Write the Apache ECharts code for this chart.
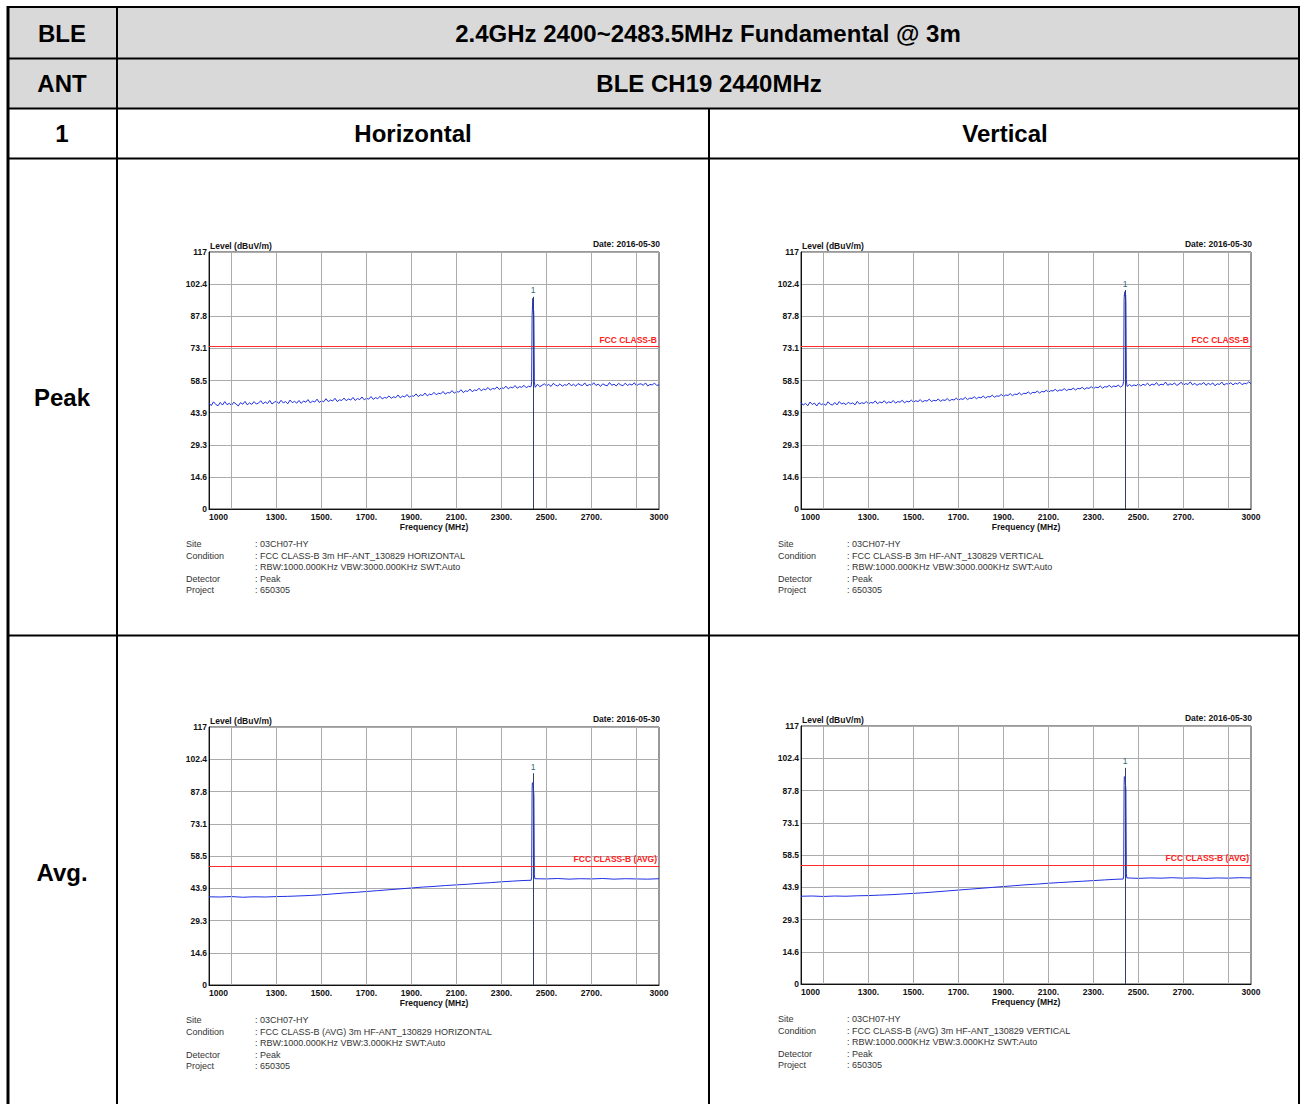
<!DOCTYPE html>
<html>
<head>
<meta charset="utf-8">
<script src="https://cdn.jsdelivr.net/npm/echarts@6/dist/echarts.min.js"></script>
<style>
  html, body { margin: 0; padding: 0; background: #fff; }
  #main { width: 1300px; height: 1104px; }
</style>
</head>
<body>
<div id="main"></div>
<script>
// axis ticks / labels
var xLabelValues = [1000, 1300, 1500, 1700, 1900, 2100, 2300, 2500, 2700, 3000];
var xLabelTexts = ['1000', '1300.', '1500.', '1700.', '1900.', '2100.', '2300.', '2500.', '2700.', '3000'];
var xGridLines = [1100, 1300, 1500, 1700, 1900, 2100, 2300, 2500, 2700, 2900];
var yTickLabels = ['0', '14.6', '29.3', '43.9', '58.5', '73.1', '87.8', '102.4', '117'];

// peak traces, sweep 1000..3000 MHz every 10 MHz (dBuV/m), one row = 100 MHz
var peakHLevels = [
  48.2, 47.1, 48.8, 47.6, 47.0, 48.5, 47.3, 48.9, 47.5, 48.1,
  47.2, 48.6, 47.8, 46.9, 48.4, 47.7, 49.0, 47.4, 48.3, 47.6,
  48.9, 47.8, 48.2, 49.3, 47.9, 48.7, 48.0, 49.4, 47.8, 48.6,
  49.1, 48.0, 49.5, 48.3, 48.9, 47.9, 49.6, 48.4, 49.0, 48.2,
  49.4, 48.1, 49.2, 48.6, 49.8, 48.3, 49.1, 48.7, 50.0, 48.5,
  49.3, 48.8, 50.2, 48.9, 49.6, 49.2, 50.4, 48.9, 49.7, 49.4,
  50.5, 49.3, 50.1, 49.6, 50.8, 49.4, 50.3, 49.8, 51.0, 49.7,
  50.4, 50.0, 51.2, 49.9, 50.7, 50.2, 51.3, 50.1, 50.8, 50.5,
  51.5, 50.4, 51.1, 50.7, 51.9, 50.6, 51.4, 51.0, 52.1, 50.9,
  51.6, 51.3, 52.4, 51.2, 52.0, 51.6, 52.8, 51.5, 52.3, 52.0,
  53.1, 52.0, 52.7, 52.4, 53.5, 52.3, 53.0, 52.8, 53.9, 52.7,
  53.5, 53.2, 54.3, 53.0, 53.8, 53.5, 54.6, 53.4, 54.2, 53.9,
  55.0, 53.8, 54.6, 54.3, 55.3, 54.1, 54.9, 54.6, 55.6, 54.4,
  55.2, 54.9, 55.9, 54.7, 55.5, 55.1, 56.2, 55.0, 55.7, 55.4,
  56.3, 55.2, 55.9, 55.6, 56.4, 55.4, 56.8, 55.7, 56.3, 57.0,
  56.1, 56.7, 55.8, 57.2, 56.4, 56.0, 57.0, 55.9, 56.6, 56.3,
  57.3, 56.1, 56.8, 55.9, 57.1, 56.5, 56.2, 57.4, 56.0, 56.7,
  56.3, 57.5, 56.2, 56.9, 55.8, 57.0, 56.4, 56.1, 57.6, 56.3,
  56.8, 56.0, 57.2, 56.5, 56.1, 57.3, 56.2, 56.9, 56.4, 57.5,
  56.1, 56.8, 57.0, 56.3, 57.4, 56.0, 56.7, 56.5, 57.3, 56.2,
  56.6
];
var peakVLevels = [
  48.5, 47.3, 48.1, 47.0, 48.7, 47.6, 48.2, 46.9, 48.4, 47.5,
  48.0, 47.2, 48.8, 47.7, 47.3, 48.5, 47.4, 48.9, 47.8, 48.2,
  47.5, 48.6, 47.9, 48.3, 47.4, 49.0, 47.8, 48.4, 48.0, 48.9,
  47.9, 48.5, 48.2, 49.2, 47.9, 48.7, 48.3, 49.3, 48.1, 48.8,
  48.4, 49.4, 48.2, 48.9, 48.6, 49.5, 48.3, 49.1, 48.7, 49.6,
  48.6, 49.3, 48.9, 49.8, 48.7, 49.4, 49.1, 50.0, 48.9, 49.5,
  49.2, 50.1, 49.0, 49.7, 49.4, 50.3, 49.2, 49.9, 49.6, 50.5,
  49.5, 50.2, 49.9, 50.8, 49.8, 50.5, 50.3, 51.1, 50.2, 50.9,
  50.6, 51.4, 50.5, 51.2, 51.0, 51.8, 50.9, 51.5, 51.3, 52.2,
  51.2, 51.9, 51.7, 52.5, 51.6, 52.3, 52.1, 52.9, 52.0, 52.7,
  52.5, 53.3, 52.4, 53.1, 52.9, 53.7, 52.8, 53.5, 53.3, 54.1,
  53.2, 53.9, 53.7, 54.5, 53.6, 54.2, 54.0, 54.8, 53.9, 54.5,
  54.3, 55.0, 54.2, 54.9, 54.7, 55.4, 54.5, 55.2, 54.9, 55.7,
  54.8, 55.5, 55.2, 56.0, 55.0, 55.7, 55.5, 56.3, 55.4, 56.0,
  55.7, 56.4, 55.5, 56.2, 56.0, 55.8, 56.7, 55.9, 56.5, 56.1,
  57.0, 56.0, 56.8, 56.3, 57.3, 56.1, 56.9, 56.4, 57.6, 56.2,
  56.8, 56.5, 57.8, 56.3, 57.0, 56.6, 57.4, 56.2, 56.9, 57.7,
  56.4, 57.1, 56.7, 57.9, 56.5, 57.2, 56.3, 57.0, 56.8, 57.6,
  56.3, 57.2, 56.6, 57.4, 56.1, 57.0, 56.7, 57.8, 56.4, 57.1,
  56.8, 57.5, 56.5, 57.3, 56.9, 57.7, 56.6, 57.2, 57.0, 57.9,
  57.0
];
// average traces, sweep 1000..3000 MHz every 50 MHz
var avgHLevels = [
  40.0, 39.9, 40.1, 39.8, 40.0, 39.9, 40.1, 40.2, 40.4, 40.6,
  40.9, 41.3, 41.7, 42.0, 42.4, 42.8, 43.2, 43.6, 44.0, 44.4,
  44.7, 45.1, 45.4, 45.7, 46.1, 46.4, 46.8, 47.1, 47.4, 48.2,
  48.1, 48.3, 48.0, 48.2, 48.1, 48.3, 48.0, 48.2, 48.1, 48.0,
  48.2
];
var avgVLevels = [
  39.8, 39.9, 39.7, 39.9, 39.8, 40.0, 40.1, 40.3, 40.5, 40.8,
  41.1, 41.4, 41.8, 42.2, 42.6, 43.0, 43.4, 43.8, 44.2, 44.6,
  45.0, 45.3, 45.7, 46.0, 46.3, 46.6, 46.9, 47.2, 47.5, 48.0,
  47.9, 48.1, 48.0, 48.2, 48.0, 48.1, 47.9, 48.1, 48.0, 48.2,
  48.1
];
// carrier at 2440 MHz
var spikeFreqs = [2432, 2434, 2436, 2437, 2438, 2439, 2440, 2441, 2442, 2443, 2444, 2446, 2448];
var peakHSpike = [56.0, 58, 88, 90.1, 89.8, 95.9, 95.5, 90.0, 89.6, 90.2, 87, 58, 56.3];
var peakVSpike = [56.2, 58, 95, 97.4, 97.0, 98.9, 98.5, 97.2, 96.8, 97.3, 94, 59, 56.5];
var avgHSpike = [47.5, 49, 88, 91.7, 91.4, 91.7, 91.5, 91.6, 91.3, 91.5, 86, 50, 48.2];
var avgVSpike = [47.6, 49, 90, 94.0, 93.7, 94.0, 93.8, 93.9, 93.6, 93.8, 88, 50, 48.1];
var markerFreq = 2440;
var markerLevels = [96.6, 99.7, 96.0, 98.0];
var limitLevels = [74, 74, 54, 54];
var limitNames = ['FCC CLASS-B', 'FCC CLASS-B', 'FCC CLASS-B (AVG)', 'FCC CLASS-B (AVG)'];

var FONT = '"Liberation Sans", Arial, sans-serif';

var panels = [
  {left: 209, top: 252, height: 257, levels: peakHLevels, step: 10, spike: peakHSpike,
   cond: 'FCC CLASS-B 3m HF-ANT_130829 HORIZONTAL', rbw: 'RBW:1000.000KHz VBW:3000.000KHz SWT:Auto'},
  {left: 801, top: 252, height: 257, levels: peakVLevels, step: 10, spike: peakVSpike,
   cond: 'FCC CLASS-B 3m HF-ANT_130829 VERTICAL', rbw: 'RBW:1000.000KHz VBW:3000.000KHz SWT:Auto'},
  {left: 209, top: 727, height: 258, levels: avgHLevels, step: 50, spike: avgHSpike,
   cond: 'FCC CLASS-B (AVG) 3m HF-ANT_130829 HORIZONTAL', rbw: 'RBW:1000.000KHz VBW:3.000KHz SWT:Auto'},
  {left: 801, top: 726, height: 258, levels: avgVLevels, step: 50, spike: avgVSpike,
   cond: 'FCC CLASS-B (AVG) 3m HF-ANT_130829 VERTICAL', rbw: 'RBW:1000.000KHz VBW:3.000KHz SWT:Auto'}
];

function buildTrace(levels, step, spike) {
  var lo = spikeFreqs[0], hi = spikeFreqs[spikeFreqs.length - 1];
  var pts = [];
  levels.forEach(function (v, i) {
    var f = 1000 + i * step;
    if (f < lo || f > hi) pts.push([f, v]);
  });
  spikeFreqs.forEach(function (f, i) { pts.push([f, spike[i]]); });
  pts.sort(function (a, b) { return a[0] - b[0]; });
  return pts;
}

function txt(x, y, s, size, bold, align, color) {
  return {
    type: 'text', x: x, y: y, silent: true,
    style: {
      text: s, fontSize: size, fontWeight: bold ? 'bold' : 'normal', fontFamily: FONT,
      fill: color || '#000', align: align || 'left', verticalAlign: 'middle'
    }
  };
}
function ln(x1, y1, x2, y2, w) {
  return {type: 'line', silent: true, shape: {x1: x1, y1: y1, x2: x2, y2: y2},
          style: {stroke: '#000', lineWidth: w}};
}

var grids = [], xAxes = [], yAxes = [], series = [];
var graphic = [
  {type: 'rect', silent: true, shape: {x: 9, y: 8, width: 1290, height: 100}, style: {fill: '#d9d9d9'}},
  ln(7, 7, 1300, 7, 2), ln(8, 6, 8, 1104, 3), ln(1299, 6, 1299, 1104, 2),
  ln(8, 58.5, 1300, 58.5, 2), ln(8, 108.5, 1300, 108.5, 2), ln(8, 158.5, 1300, 158.5, 2),
  ln(8, 635.5, 1300, 635.5, 2), ln(117, 6, 117, 1104, 2), ln(709, 108, 709, 1104, 2),
  txt(62, 33, 'BLE', 24, true, 'center'),
  txt(708, 33, '2.4GHz 2400~2483.5MHz Fundamental @ 3m', 24, true, 'center'),
  txt(62, 83, 'ANT', 24, true, 'center'),
  txt(709, 83, 'BLE CH19 2440MHz', 24, true, 'center'),
  txt(62, 133, '1', 24, true, 'center'),
  txt(413, 133, 'Horizontal', 24, true, 'center'),
  txt(1005, 133, 'Vertical', 24, true, 'center'),
  txt(62, 397, 'Peak', 24, true, 'center'),
  txt(62, 872, 'Avg.', 24, true, 'center')
];

panels.forEach(function (p, k) {
  var W = 450, B = p.top + p.height;
  grids.push({left: p.left, top: p.top, width: W, height: p.height, show: true,
              borderColor: '#333', borderWidth: 1, backgroundColor: '#fff'});
  xAxes.push({
    type: 'value', gridIndex: k, min: 1000, max: 3000, interval: 100,
    axisLine: {show: true, lineStyle: {color: '#111', width: 1}},
    axisTick: {show: false}, splitLine: {show: false},
    axisLabel: {
      margin: 3, fontSize: 8.5, fontWeight: 'bold', color: '#111', fontFamily: FONT,
      showMinLabel: true, showMaxLabel: true, alignMinLabel: 'left', alignMaxLabel: 'center',
      formatter: function (v) {
        var i = xLabelValues.indexOf(Math.round(v));
        return i >= 0 ? xLabelTexts[i] : '';
      }
    }
  });
  yAxes.push({
    type: 'value', gridIndex: k, min: 0, max: 117, interval: 14.625,
    axisLine: {show: true, lineStyle: {color: '#111', width: 1}},
    axisTick: {show: false},
    splitLine: {show: true, lineStyle: {color: '#ababab', width: 1}},
    axisLabel: {
      margin: 2, fontSize: 8.5, fontWeight: 'bold', color: '#111', fontFamily: FONT,
      formatter: function (v) { return yTickLabels[Math.round(v / 14.625)]; }
    }
  });
  // vertical grid lines
  series.push({
    type: 'line', xAxisIndex: k, yAxisIndex: k, data: [], z: 1, silent: true,
    markLine: {
      silent: true, symbol: ['none', 'none'], animation: false,
      label: {show: false},
      lineStyle: {color: '#ababab', width: 1, type: 'solid'},
      data: xGridLines.map(function (f) { return {xAxis: f}; })
    }
  });
  // limit line
  series.push({
    type: 'line', xAxisIndex: k, yAxisIndex: k, data: [], z: 2, silent: true,
    markLine: {
      silent: true, symbol: ['none', 'none'], animation: false,
      lineStyle: {color: '#ff2a2a', width: 1, type: 'solid'},
      label: {show: true, position: 'insideEndTop', distance: [2, 2], formatter: limitNames[k],
              color: '#ff2020', fontSize: 8.5, fontWeight: 'bold', fontFamily: FONT},
      data: [{yAxis: limitLevels[k]}]
    }
  });
  // trace
  series.push({
    type: 'line', xAxisIndex: k, yAxisIndex: k, z: 3, silent: true,
    showSymbol: false, symbol: 'none', animation: false,
    lineStyle: {color: '#1f2fe6', width: 1},
    data: buildTrace(p.levels, p.step, p.spike)
  });
  // marker 1
  series.push({
    type: 'line', xAxisIndex: k, yAxisIndex: k, data: [], z: 4, silent: true,
    markLine: {
      silent: true, symbol: ['none', 'none'], animation: false,
      lineStyle: {color: '#2f4060', width: 1, type: 'solid'},
      label: {show: true, position: 'start', distance: 2, formatter: '1',
              color: '#2f6a78', fontSize: 8.5, fontFamily: FONT},
      data: [[{coord: [markerFreq, markerLevels[k]]}, {coord: [markerFreq, 0]}]]
    }
  });

  graphic.push(txt(p.left + 1, p.top - 6.5, 'Level (dBuV/m)', 8.5, true, 'left', '#111'));
  graphic.push(txt(p.left + W + 1, p.top - 8, 'Date: 2016-05-30', 8.5, true, 'right', '#111'));
  graphic.push(txt(p.left + W / 2, B + 18, 'Frequency (MHz)', 8.5, true, 'center', '#111'));
  var lx = p.left - 23, vx = p.left + 46;
  var rows = [['Site', ': 03CH07-HY'], ['Condition', ': ' + p.cond], ['', ': ' + p.rbw],
              ['Detector', ': Peak'], ['Project', ': 650305']];
  rows.forEach(function (r, i) {
    var y = B + 35 + i * 11.5;
    if (r[0]) graphic.push(txt(lx, y, r[0], 9, false, 'left', '#333'));
    graphic.push(txt(vx, y, r[1], 9, false, 'left', '#333'));
  });
});

var chart = echarts.init(document.getElementById('main'), null, {renderer: 'svg'});
chart.setOption({
  animation: false,
  backgroundColor: '#fff',
  grid: grids,
  xAxis: xAxes,
  yAxis: yAxes,
  series: series,
  graphic: graphic
});
</script>
</body>
</html>
